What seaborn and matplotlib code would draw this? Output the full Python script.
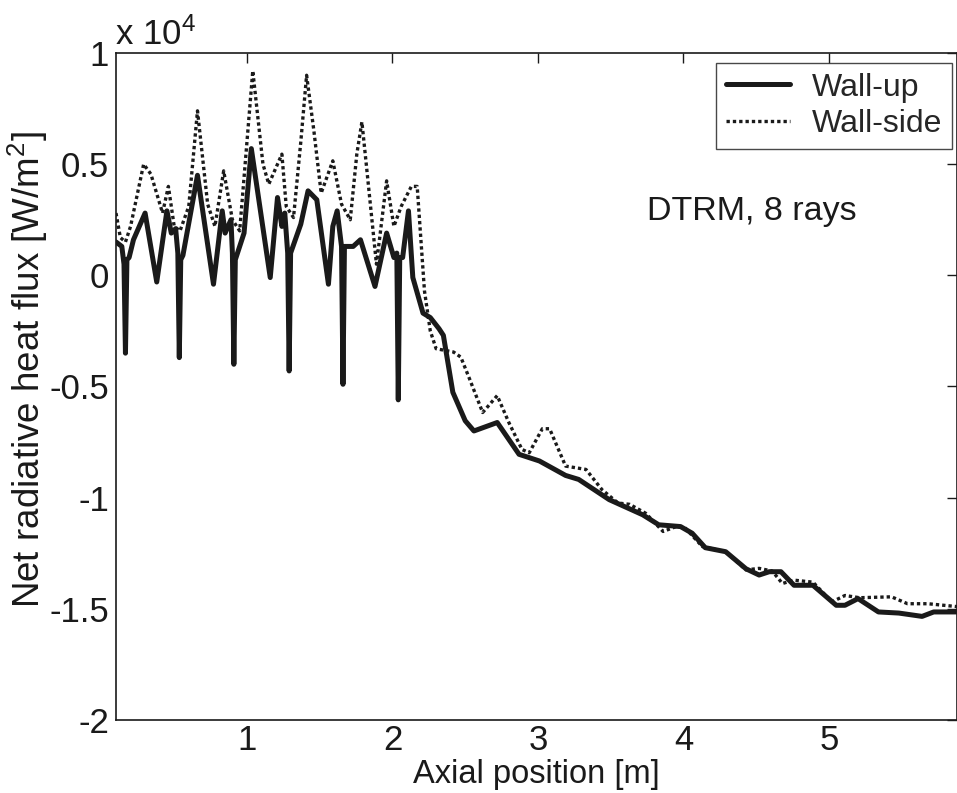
import pandas as pd
import seaborn as sns
import matplotlib.pyplot as plt
from matplotlib.ticker import FuncFormatter

# axial position [m] and net radiative heat flux [W/m2]
x_up = [0.10, 0.14, 0.155, 0.165, 0.175, 0.19, 0.22, 0.30, 0.38, 0.45, 0.48, 0.51,
        0.525, 0.535, 0.545, 0.56, 0.66, 0.77, 0.83, 0.85, 0.89, 0.90, 0.91, 0.92,
        0.98, 1.03, 1.16, 1.21, 1.24, 1.26, 1.28, 1.29, 1.30, 1.37, 1.42, 1.48,
        1.56, 1.59, 1.62, 1.65, 1.66, 1.67, 1.73, 1.78, 1.88, 1.96, 2.01, 2.03,
        2.04, 2.05, 2.07, 2.11, 2.14, 2.21, 2.26, 2.32, 2.35, 2.415, 2.50, 2.56,
        2.72, 2.87, 3.01, 3.19, 3.28, 3.49, 3.72, 3.83, 3.98, 4.06, 4.15, 4.29,
        4.43, 4.52, 4.59, 4.67, 4.76, 4.89, 5.05, 5.11, 5.20, 5.34, 5.48, 5.64,
        5.72, 5.88]
q_up = [1500, 1300, 500, -3500, 700, 800, 1600, 2800, -300, 2900, 1900, 2100,
        1000, -3700, 700, 900, 4500, -400, 2900, 1900, 2500, 1000, -4000, 700,
        1900, 5700, -100, 3500, 2200, 2800, 1000, -4300, 1000, 2300, 3800, 3400,
        -400, 2200, 2900, 1300, -4900, 1300, 1300, 1600, -500, 1900, 800, 1000,
        -5600, 800, 800, 2900, -100, -1700, -1900, -2400, -2700, -5260, -6540, -7000,
        -6620, -8050, -8350, -9000, -9180, -10090, -10770, -11220, -11300, -11600, -12250, -12430,
        -13200, -13480, -13330, -13330, -13940, -13940, -14840, -14840, -14540, -15140, -15190, -15340,
        -15140, -15140]

x_side = [0.10, 0.13, 0.165, 0.20, 0.29, 0.34, 0.42, 0.46, 0.50, 0.54, 0.60, 0.66,
          0.73, 0.78, 0.84, 0.90, 0.95, 1.00, 1.04, 1.11, 1.15, 1.19, 1.24, 1.27,
          1.32, 1.37, 1.41, 1.46, 1.51, 1.59, 1.65, 1.71, 1.755, 1.79, 1.82, 1.89,
          1.96, 2.01, 2.06, 2.13, 2.17, 2.22, 2.26, 2.30, 2.42, 2.47, 2.53, 2.62,
          2.72, 2.80, 2.89, 2.94, 3.03, 3.08, 3.19, 3.33, 3.44, 3.55, 3.63, 3.74,
          3.86, 3.95, 4.01, 4.13, 4.29, 4.43, 4.52, 4.61, 4.68, 4.76, 4.89, 5.02,
          5.11, 5.21, 5.43, 5.54, 5.68, 5.88]
q_side = [2800, 1700, 1500, 2200, 5000, 4550, 2800, 4000, 2200, 2000, 3100, 7400,
          3200, 2200, 4700, 2500, 2000, 6000, 9200, 5000, 4100, 4700, 5450, 3100,
          2600, 6000, 9000, 6500, 3700, 5150, 3200, 2500, 5450, 6900, 5000, 500,
          4250, 2200, 3100, 4000, 4000, -700, -2500, -3300, -3450, -3680, -4660, -6170,
          -5410, -6620, -7830, -7980, -6900, -6900, -8580, -8730, -9640, -10240, -10300, -10700,
          -11520, -11300, -11350, -12200, -12430, -13250, -13180, -13300, -13860, -13710, -13800, -14690,
          -14400, -14500, -14460, -14770, -14770, -14900]

up = pd.DataFrame({'x': x_up, 'q': q_up})
side = pd.DataFrame({'x': x_side, 'q': q_side})

sns.set_theme(style='white')
plt.rcParams['font.family'] = ['Liberation Sans', 'DejaVu Sans']
plt.rcParams['mathtext.fontset'] = 'custom'
plt.rcParams['mathtext.rm'] = 'Liberation Sans'
plt.rcParams['mathtext.it'] = 'Liberation Sans'
plt.rcParams['axes.unicode_minus'] = False

ink = '#1a1a1a'

fig = plt.figure(figsize=(9.57, 7.93), dpi=100)
ax = fig.add_axes([116 / 957, 1 - 720 / 793, (957 - 116) / 957, (720 - 53) / 793])

sns.lineplot(data=side, x='x', y='q', ax=ax, color=ink, lw=2.4, dashes=False,
             linestyle=(0, (1, 0.9)), estimator=None, sort=False, label='Wall-side')
sns.lineplot(data=up, x='x', y='q', ax=ax, color=ink, lw=3.6, estimator=None,
             sort=False, label='Wall-up')

ax.set_xlim(0.1, 5.88)
ax.set_ylim(-20000, 10000)
ax.set_xticks([1, 2, 3, 4, 5])
ax.set_yticks([-20000, -15000, -10000, -5000, 0, 5000, 10000])
ax.yaxis.set_major_formatter(FuncFormatter(lambda v, p: '%g' % (v / 1e4)))
ax.tick_params(direction='in', length=7, width=1, top=True, right=True,
               labelsize=25, colors=ink, pad=5)
ax.tick_params(axis='x', pad=3)
for s in ax.spines.values():
    s.set_color(ink)
    s.set_linewidth(1.2)

ax.set_xlabel('Axial position [m]', fontsize=23.5, color=ink)
ax.xaxis.set_label_coords(0.5, (720 - 759) / 667)
ax.set_ylabel('')
fig.text(28 / 957, 1 - 370 / 793, 'Net radiative heat flux [W/m$^2$]', fontsize=26.5,
         color=ink, rotation=90, ha='center', va='center')
fig.text(115 / 957, 1 - 45 / 793, 'x 10$^4$', fontsize=25, color=ink,
         ha='left', va='baseline')
ax.text(0.756, 0.762, 'DTRM, 8 rays', transform=ax.transAxes, fontsize=24.5,
        color=ink, ha='center', va='center')

h, l = ax.get_legend_handles_labels()
leg = ax.legend(h[::-1], l[::-1], loc='upper right', fontsize=23,
                bbox_to_anchor=(952 / 957, 1 - 63 / 793), bbox_transform=fig.transFigure,
                frameon=True, fancybox=False, edgecolor=ink, borderaxespad=0,
                borderpad=0.3, labelspacing=0.2, handlelength=2.0, handletextpad=0.7)
leg.get_frame().set_linewidth(1.0)

fig.savefig('out.png', dpi=100, facecolor='white')
